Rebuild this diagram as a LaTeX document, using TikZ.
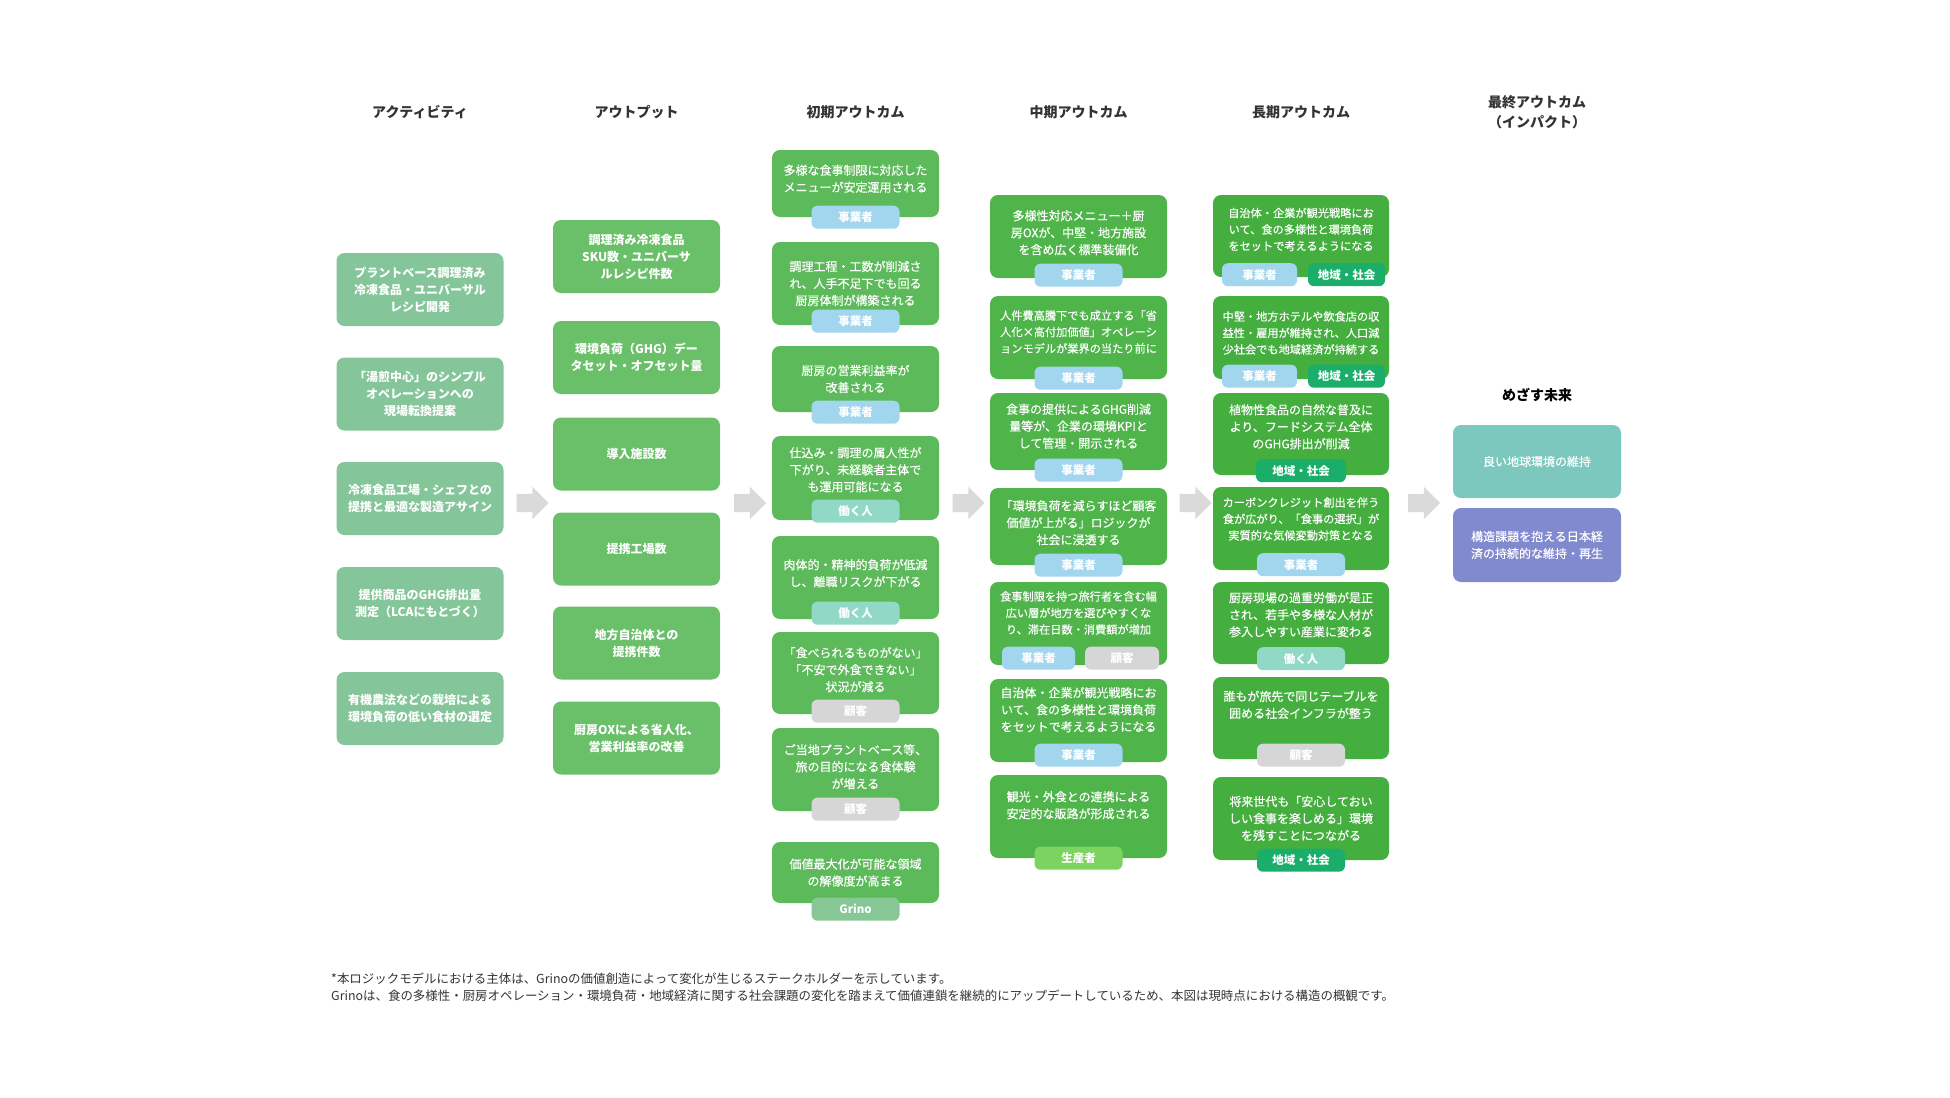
\documentclass[tikz,border=0pt]{standalone}
\usepackage{fontspec}
\setmainfont{Noto Sans CJK JP}
\newfontfamily\lmmedium[FakeBold=0.3]{Noto Sans CJK JP}
\usepackage{tikz}
\usetikzlibrary{shapes,arrows,positioning}
\usepackage{xcolor}
\definecolor{actgreen}{HTML}{84C69A}
\definecolor{outgreen}{HTML}{6ABF69}
\definecolor{inigreen}{HTML}{5DBA5A}
\definecolor{midgreen}{HTML}{4FB44A}
\definecolor{longgreen}{HTML}{44AE3E}
\definecolor{tagblue}{HTML}{A2D5EE}
\definecolor{tagteal}{HTML}{92D8C6}
\definecolor{taggray}{HTML}{D6D6D6}
\definecolor{taggrino}{HTML}{86C795}
\definecolor{tagprod}{HTML}{7DD35F}
\definecolor{tagarea}{HTML}{1AAE6A}
\definecolor{finteal}{HTML}{7CC8BE}
\definecolor{finpurple}{HTML}{8189CF}
\definecolor{arrgray}{HTML}{DADADA}
\definecolor{headtext}{HTML}{333333}
\newcommand\lmbody{\fontsize{12bp}{17bp}\selectfont}
\newcommand\lmsmall{\fontsize{11.2bp}{16.5bp}\selectfont}
\newcommand\lmhead{\fontsize{14bp}{20bp}\selectfont\bfseries}
\newcommand\lmtag{\fontsize{11.5bp}{14bp}\selectfont\bfseries}
\newcommand\lmnote{\fontsize{12.45bp}{17bp}\selectfont}
% empty last line, pushes the text up in its box
\newcommand\lmup[1]{\\[#1]\mbox{}}
\tikzset{
lmbox/.style={rectangle,rounded corners=8bp,align=center,text=white,font=\lmbody\lmmedium,inner sep=2bp},
actbox/.style={lmbox,fill=actgreen,minimum width=167bp,minimum height=73bp,font=\lmbody\bfseries},
outbox/.style={lmbox,fill=outgreen,minimum width=167bp,minimum height=73bp,font=\lmbody\bfseries},
inibox/.style={lmbox,fill=inigreen,minimum width=167bp,minimum height=83bp},
midbox/.style={lmbox,fill=midgreen,minimum width=177bp,minimum height=83bp},
longbox/.style={lmbox,fill=longgreen,minimum width=176bp,minimum height=82bp},
finbox/.style={lmbox,minimum width=168bp,minimum height=73bp},
lmtagbox/.style={rectangle,rounded corners=6bp,text=white,font=\lmtag,minimum width=88bp,minimum height=23bp,inner sep=0pt},
tagbiz/.style={lmtagbox,fill=tagblue},
tagwork/.style={lmtagbox,fill=tagteal},
tagcust/.style={lmtagbox,fill=taggray},
taggr/.style={lmtagbox,fill=taggrino},
tagprod/.style={lmtagbox,fill=tagprod},
tagarea/.style={lmtagbox,fill=tagarea},
colhead/.style={align=center,text=headtext,font=\lmhead},
colarr/.style={single arrow,draw=none,fill=arrgray,minimum height=32bp,minimum width=32bp,
  single arrow head extend=7bp,inner xsep=0pt,inner ysep=9bp}
}
\begin{document}
\begin{tikzpicture}[x=1bp,y=-1bp]
\useasboundingbox (0,0) rectangle (1950,1097);
% column heads
\node[colhead] (hact) at (420,112) {アクティビティ};
\node[colhead] (hout) at (636.5,112) {アウトプット};
\node[colhead] (hini) at (855.5,112) {初期アウトカム};
\node[colhead] (hmid) at (1078.5,112) {中期アウトカム};
\node[colhead] (hlong) at (1301,112) {長期アウトカム};
\node[colhead] (hfin) at (1537,112) {最終アウトカム\\（インパクト）};
\node[colhead,text=black] (hgoal) at (1537,395) {めざす未来};

% activities
\node[actbox] (A1) at (420,289.5) {プラントベース調理済み\\冷凍食品・ユニバーサル\\レシピ開発};
\node[actbox] (A2) at (420,394) {「湯煎中心」のシンプル\\オペレーションへの\\現場転換提案};
\node[actbox] (A3) at (420,498.5) {冷凍食品工場・シェフとの\\提携と最適な製造アサイン};
\node[actbox] (A4) at (420,603.5) {提供商品のGHG排出量\\測定（LCAにもとづく）};
\node[actbox] (A5) at (420,708.5) {有機農法などの栽培による\\環境負荷の低い食材の選定};

% outputs
\node[outbox] (O1) at (636.5,256.5) {調理済み冷凍食品\\SKU数・ユニバーサ\\ルレシピ件数};
\node[outbox] (O2) at (636.5,357.5) {環境負荷（GHG）デー\\タセット・オフセット量};
\node[outbox] (O3) at (636.5,454) {導入施設数};
\node[outbox] (O4) at (636.5,549) {提携工場数};
\node[outbox] (O5) at (636.5,643) {地方自治体との\\提携件数};
\node[outbox] (O6) at (636.5,738) {厨房OXによる省人化、\\営業利益率の改善};

% initial outcomes
\node[inibox,minimum height=67bp] (I1) at (855.5,183.5) {多様な食事制限に対応した\\メニューが安定運用される\lmup{-6.5bp}};
\node[inibox] (I2) at (855.5,283.5) {調理工程・工数が削減さ\\れ、人手不足下でも回る\\厨房体制が構築される};
\node[inibox,minimum height=66bp] (I3) at (855.5,379) {厨房の営業利益率が\\改善される};
\node[inibox,minimum height=84bp] (I4) at (855.5,478) {仕込み・調理の属人性が\\下がり、未経験者主体で\\も運用可能になる\lmup{0.5bp}};
\node[inibox] (I5) at (855.5,577.5) {肉体的・精神的負荷が低減\\し、離職リスクが下がる\lmup{-7.5bp}};
\node[inibox,minimum height=82bp] (I6) at (855.5,673) {「食べられるものがない」\\「不安で外食できない」\\状況が減る\lmup{-9.5bp}};
\node[inibox] (I7) at (855.5,769.5) {ご当地プラントベース等、\\旅の目的になる食体験\\が増える\lmup{-10.5bp}};
\node[inibox,minimum height=61bp] (I8) at (855.5,872.5) {価値最大化が可能な領域\\の解像度が高まる};
\node[tagbiz] (I1t) at (I1.south) {事業者};
\node[tagbiz] (I2t) at ([yshift=4bp]I2.south) {事業者};
\node[tagbiz] (I3t) at (I3.south) {事業者};
\node[tagwork] (I4t) at ([yshift=9bp]I4.south) {働く人};
\node[tagwork] (I5t) at ([yshift=6bp]I5.south) {働く人};
\node[tagcust] (I6t) at ([yshift=3bp]I6.south) {顧客};
\node[tagcust] (I7t) at ([yshift=2bp]I7.south) {顧客};
\node[taggr] (I8t) at ([yshift=-6bp]I8.south) {Grino};

% mid-term outcomes
\node[midbox] (M1) at (1078.5,236.5) {多様性対応メニュー＋厨\\房OXが、中堅・地方施設\\を含め広く標準装備化\lmup{-8.5bp}};
\node[midbox,font=\lmsmall\lmmedium] (M2) at (1078.5,337.5) {人件費高騰下でも成立する「省\\人化×高付加価値」オペレーシ\\ョンモデルが業界の当たり前に\lmup{-4.5bp}};
\node[midbox,minimum height=77bp] (M3) at (1078.5,431.5) {食事の提供によるGHG削減\\量等が、企業の環境KPIと\\して管理・開示される\lmup{-5.5bp}};
\node[midbox,minimum height=77bp] (M4) at (1078.5,526.5) {「環境負荷を減らすほど顧客\\価値が上がる」ロジックが\\社会に浸透する\lmup{-8.5bp}};
\node[midbox,font=\lmsmall\lmmedium] (M5) at (1078.5,623.5) {食事制限を持つ旅行者を含む幅\\広い層が地方を選びやすくな\\り、滞在日数・消費額が増加\lmup{5.5bp}};
\node[midbox] (M6) at (1078.5,720.5) {自治体・企業が観光戦略にお\\いて、食の多様性と環境負荷\\をセットで考えるようになる\lmup{5.5bp}};
\node[midbox] (M7) at (1078.5,816.5) {観光・外食との連携による\\安定的な販路が形成される\lmup{6.5bp}};
\node[tagbiz] (M1t) at ([yshift=3bp]M1.south) {事業者};
\node[tagbiz] (M2t) at ([yshift=1bp]M2.south) {事業者};
\node[tagbiz] (M3t) at (M3.south) {事業者};
\node[tagbiz] (M4t) at (M4.south) {事業者};
\node[tagbiz,minimum width=73bp] (M5t) at ([xshift=-40bp,yshift=7bp]M5.south) {事業者};
\node[tagcust,minimum width=74bp] (M5u) at ([xshift=43.5bp,yshift=7bp]M5.south) {顧客};
\node[tagbiz] (M6t) at ([yshift=7bp]M6.south) {事業者};
\node[tagprod] (M7t) at (M7.south) {生産者};

% long-term outcomes
\node[longbox,font=\lmsmall\lmmedium] (L1) at (1301,236) {自治体・企業が観光戦略にお\\いて、食の多様性と環境負荷\\をセットで考えるようになる\lmup{-2.5bp}};
\node[longbox,font=\lmsmall\lmmedium,minimum height=83bp] (L2) at (1301,337.5) {中堅・地方ホテルや飲食店の収\\益性・雇用が維持され、人口減\\少社会でも地域経済が持続する\lmup{-6.5bp}};
\node[longbox] (L3) at (1301,434) {植物性食品の自然な普及に\\より、フードシステム全体\\のGHG排出が削減\lmup{-1.5bp}};
\node[longbox,font=\lmsmall\lmmedium,minimum height=83bp] (L4) at (1301,528.5) {カーボンクレジット創出を伴う\\食が広がり、「食事の選択」が\\実質的な気候変動対策となる\lmup{3.5bp}};
\node[longbox] (L5) at (1301,623) {厨房現場の過重労働が是正\\され、若手や多様な人材が\\参入しやすい産業に変わる\lmup{0.5bp}};
\node[longbox] (L6) at (1301,718) {誰もが旅先で同じテーブルを\\囲める社会インフラが整う\lmup{10.5bp}};
\node[longbox,minimum height=83bp] (L7) at (1301,818.5) {将来世代も「安心しておい\\しい食事を楽しめる」環境\\を残すことにつながる};
\node[tagbiz,minimum width=75bp] (L1t) at ([xshift=-41.5bp,yshift=2.5bp]L1.south) {事業者};
\node[tagarea,minimum width=77bp] (L1u) at ([xshift=45.5bp,yshift=2.5bp]L1.south) {地域・社会};
\node[tagbiz,minimum width=75bp] (L2t) at ([xshift=-41.5bp,yshift=3bp]L2.south) {事業者};
\node[tagarea,minimum width=77bp] (L2u) at ([xshift=45.5bp,yshift=3bp]L2.south) {地域・社会};
\node[tagarea,minimum width=90bp] (L3t) at ([yshift=4.5bp]L3.south) {地域・社会};
\node[tagbiz] (L4t) at ([yshift=5.5bp]L4.south) {事業者};
\node[tagwork] (L5t) at ([yshift=5.5bp]L5.south) {働く人};
\node[tagcust] (L6t) at ([yshift=4bp]L6.south) {顧客};
\node[tagarea] (L7t) at (L7.south) {地域・社会};

% final outcome
\node[finbox,fill=finteal] (F1) at (1537,461.5) {良い地球環境の維持};
\node[finbox,fill=finpurple,minimum height=74bp] (F2) at (1537,545) {構造課題を抱える日本経\\済の持続的な維持・再生};

% block arrows between columns
\node[colarr] (g1) at (528,503) {};
\node[colarr] (g2) at (745.5,503) {};
\node[colarr] (g3) at (964,503) {};
\node[colarr] (g4) at (1191,503) {};
\node[colarr] (g5) at (1419.5,503) {};

% note
\node[anchor=west,align=left,text=headtext,font=\lmnote,inner sep=0pt] (note) at (331,987.5)
  {*本ロジックモデルにおける主体は、Grinoの価値創造によって変化が生じるステークホルダーを示しています。\\
   Grinoは、食の多様性・厨房オペレーション・環境負荷・地域経済に関する社会課題の変化を踏まえて価値連鎖を継続的にアップデートしているため、本図は現時点における構造の概観です。};
\end{tikzpicture}
\end{document}
